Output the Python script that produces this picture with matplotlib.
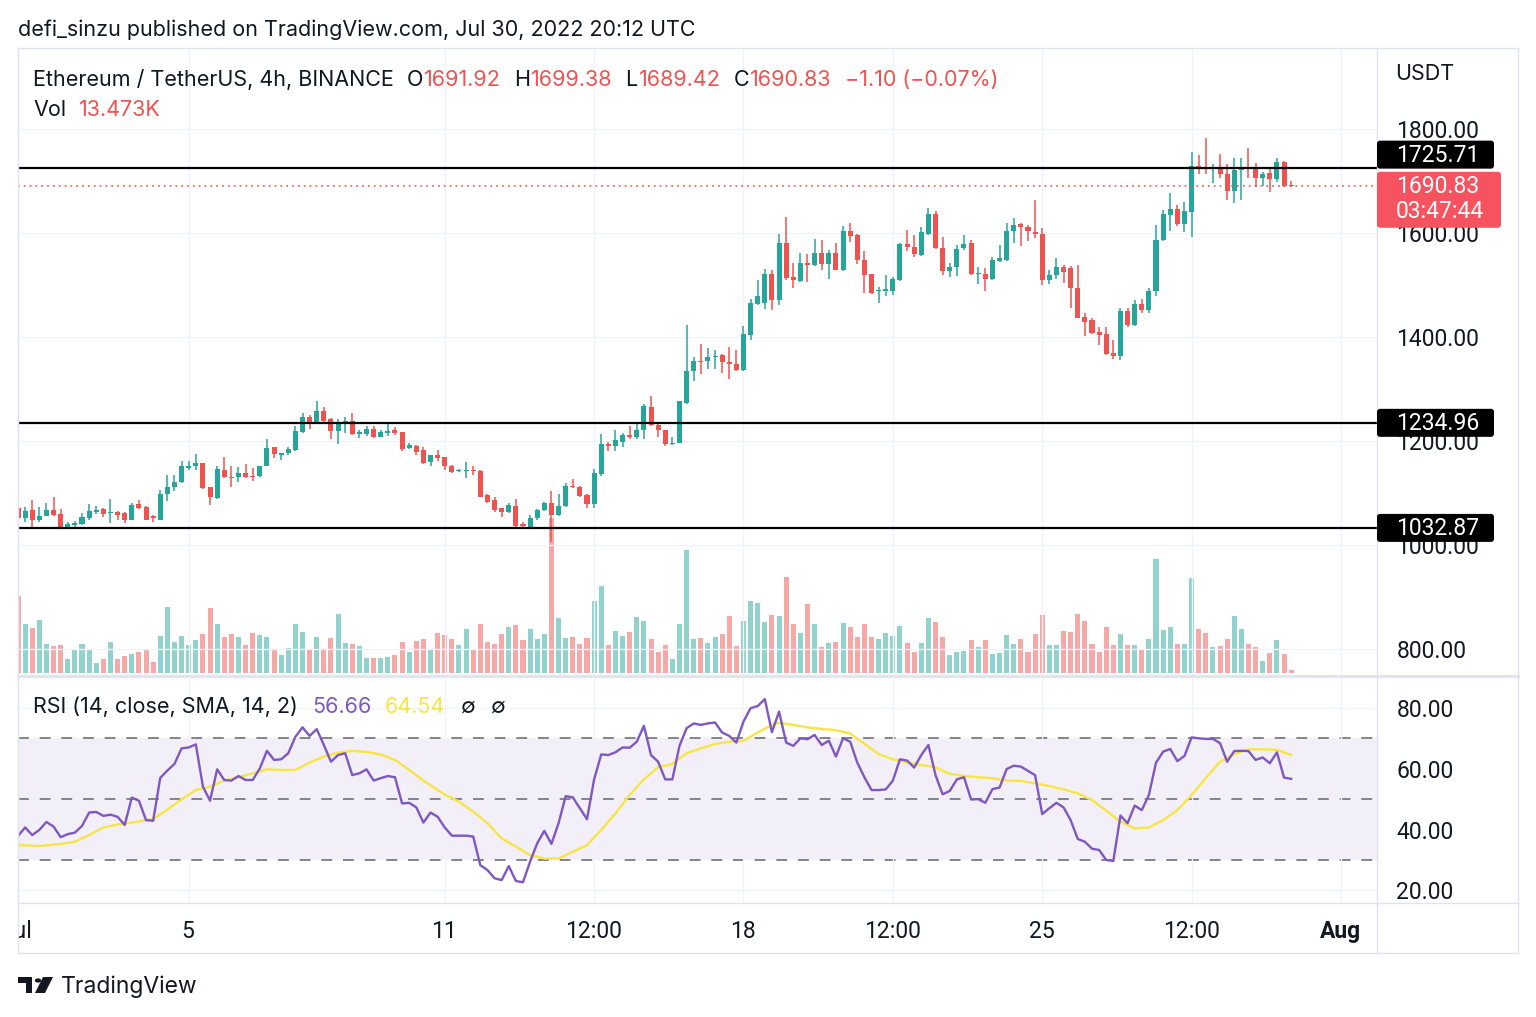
import numpy as np
import pandas as pd
import matplotlib
matplotlib.use("Agg")
import matplotlib.pyplot as plt
import matplotlib.dates as mdates
from matplotlib.patches import FancyBboxPatch, Circle, Polygon
from matplotlib.lines import Line2D

plt.rcParams['font.family'] = ['Inter', 'DejaVu Sans']

#===========================================================
# --- Donnees (ETH/USDT 4h) -------------------------------
#===========================================================

start = '2022-07-01 00:00'

opens = [1071, 1051, 1067, 1049, 1056, 1067, 1060, 1035, 1039, 1040,
         1051, 1064, 1069, 1061, 1063, 1061, 1048, 1078, 1074, 1055,
         1049, 1099, 1111, 1122, 1148, 1151, 1157, 1111, 1090, 1144,
         1131, 1130, 1138, 1131, 1133, 1152, 1188, 1173, 1176, 1183,
         1218, 1247, 1234, 1258, 1242, 1220, 1235, 1239, 1213, 1214,
         1224, 1208, 1215, 1221, 1218, 1186, 1190, 1183, 1160, 1174,
         1169, 1152, 1142, 1143, 1144, 1142, 1096, 1087, 1071, 1064,
         1075, 1040, 1035, 1051, 1067, 1080, 1058, 1075, 1113, 1112,
         1097, 1079, 1137, 1194, 1190, 1199, 1212, 1208, 1221, 1266,
         1231, 1222, 1194, 1197, 1274, 1335, 1354, 1353, 1362, 1365,
         1351, 1348, 1337, 1404, 1463, 1465, 1521, 1471, 1580, 1515,
         1508, 1542, 1538, 1561, 1540, 1561, 1528, 1603, 1596, 1549,
         1521, 1488, 1489, 1489, 1510, 1579, 1574, 1558, 1599, 1636,
         1572, 1526, 1534, 1571, 1580, 1522, 1522, 1511, 1547, 1549,
         1604, 1617, 1612, 1602, 1599, 1510, 1520, 1535, 1533, 1494,
         1439, 1433, 1409, 1405, 1369, 1364, 1450, 1423, 1463, 1452,
         1488, 1586, 1635, 1647, 1617, 1640, 1729, 1726, 1724, 1726,
         1713, 1681, 1721, 1726, 1723, 1706, 1715, 1704, 1737, 1691.92]

highs = [1074, 1074, 1087, 1074, 1081, 1092, 1069, 1045, 1047, 1062,
         1079, 1075, 1072, 1088, 1066, 1064, 1081, 1087, 1075, 1057,
         1106, 1135, 1135, 1162, 1162, 1175, 1157, 1111, 1151, 1170,
         1152, 1150, 1156, 1149, 1152, 1204, 1189, 1176, 1189, 1229,
         1253, 1250, 1276, 1266, 1244, 1242, 1246, 1253, 1221, 1228,
         1228, 1222, 1235, 1226, 1218, 1196, 1192, 1188, 1174, 1183,
         1169, 1154, 1147, 1160, 1152, 1145, 1098, 1092, 1072, 1081,
         1088, 1045, 1058, 1070, 1083, 1103, 1098, 1119, 1126, 1113,
         1099, 1147, 1213, 1199, 1222, 1216, 1228, 1235, 1271, 1287,
         1234, 1222, 1207, 1276, 1423, 1362, 1387, 1378, 1375, 1367,
         1381, 1375, 1421, 1474, 1510, 1530, 1529, 1599, 1631, 1542,
         1561, 1560, 1588, 1586, 1567, 1580, 1613, 1620, 1598, 1566,
         1521, 1497, 1519, 1515, 1580, 1606, 1596, 1612, 1649, 1643,
         1592, 1543, 1577, 1596, 1587, 1535, 1532, 1554, 1577, 1620,
         1628, 1619, 1615, 1663, 1609, 1529, 1552, 1538, 1537, 1538,
         1447, 1437, 1420, 1420, 1394, 1455, 1455, 1471, 1473, 1495,
         1615, 1644, 1676, 1653, 1660, 1755, 1750, 1783, 1732, 1751,
         1732, 1744, 1744, 1764, 1734, 1718, 1723, 1744, 1738, 1699.38]

lows = [1048, 1045, 1034, 1045, 1055, 1056, 1034, 1034, 1030, 1039,
        1049, 1060, 1053, 1042, 1049, 1042, 1048, 1069, 1048, 1045,
        1049, 1085, 1104, 1120, 1144, 1144, 1107, 1077, 1088, 1128,
        1111, 1122, 1128, 1124, 1131, 1151, 1167, 1164, 1173, 1180,
        1215, 1224, 1233, 1234, 1203, 1194, 1215, 1212, 1205, 1210,
        1205, 1207, 1210, 1212, 1181, 1184, 1173, 1156, 1152, 1162,
        1144, 1138, 1141, 1128, 1135, 1092, 1081, 1064, 1053, 1062,
        1034, 1034, 1034, 1049, 1066, 1006, 1056, 1074, 1109, 1093,
        1072, 1072, 1133, 1181, 1181, 1189, 1203, 1203, 1203, 1228,
        1208, 1190, 1192, 1196, 1272, 1316, 1329, 1338, 1338, 1331,
        1319, 1335, 1335, 1394, 1461, 1453, 1451, 1462, 1510, 1494,
        1506, 1506, 1536, 1529, 1511, 1528, 1526, 1583, 1540, 1484,
        1483, 1465, 1478, 1481, 1508, 1566, 1554, 1556, 1596, 1569,
        1519, 1516, 1517, 1567, 1520, 1502, 1489, 1510, 1545, 1547,
        1581, 1575, 1585, 1590, 1500, 1501, 1512, 1503, 1455, 1437,
        1401, 1405, 1385, 1366, 1358, 1356, 1420, 1422, 1447, 1446,
        1478, 1585, 1604, 1614, 1601, 1593, 1713, 1713, 1697, 1706,
        1663, 1657, 1663, 1705, 1689, 1691, 1679, 1699, 1689, 1689.42]

closes = [1051, 1066, 1048, 1056, 1067, 1058, 1035, 1040, 1043, 1053,
          1065, 1067, 1060, 1062, 1058, 1048, 1077, 1072, 1049, 1051,
          1099, 1112, 1122, 1151, 1152, 1158, 1110, 1092, 1146, 1130,
          1128, 1139, 1131, 1130, 1152, 1186, 1175, 1176, 1185, 1220,
          1247, 1233, 1258, 1239, 1220, 1237, 1239, 1213, 1218, 1224,
          1208, 1218, 1220, 1215, 1184, 1192, 1178, 1158, 1174, 1167,
          1152, 1141, 1144, 1144, 1142, 1093, 1083, 1067, 1064, 1077,
          1037, 1037, 1051, 1068, 1081, 1058, 1075, 1113, 1111, 1094,
          1079, 1139, 1194, 1190, 1201, 1212, 1207, 1222, 1267, 1231,
          1221, 1194, 1196, 1276, 1335, 1354, 1351, 1362, 1363, 1351,
          1348, 1337, 1406, 1466, 1479, 1521, 1471, 1580, 1513, 1510,
          1542, 1539, 1561, 1540, 1561, 1529, 1603, 1595, 1549, 1519,
          1485, 1490, 1492, 1511, 1579, 1574, 1560, 1601, 1636, 1572,
          1526, 1534, 1569, 1579, 1522, 1524, 1511, 1548, 1551, 1604,
          1615, 1612, 1603, 1598, 1510, 1520, 1535, 1525, 1494, 1437,
          1429, 1407, 1404, 1367, 1364, 1450, 1423, 1463, 1452, 1488,
          1586, 1636, 1647, 1617, 1642, 1729, 1723, 1723, 1727, 1713,
          1681, 1721, 1726, 1723, 1705, 1713, 1704, 1736, 1691, 1690.83]

# volume en milliers (K)
volumes = [313, 201, 184, 216, 117, 109, 113, 57, 98, 117,
           99, 42, 57, 128, 57, 68, 76, 87, 98, 46,
           151, 268, 128, 151, 113, 135, 160, 265, 201, 147,
           158, 147, 113, 164, 154, 147, 95, 72, 102, 199,
           169, 95, 147, 99, 143, 239, 124, 120, 109, 61,
           61, 61, 65, 73, 128, 84, 132, 139, 99, 164,
           155, 139, 114, 180, 99, 199, 128, 120, 158, 188,
           195, 136, 180, 139, 160, 632, 224, 143, 147, 117,
           143, 294, 356, 113, 171, 150, 169, 227, 212, 139,
           84, 113, 57, 199, 502, 139, 143, 121, 147, 160,
           234, 110, 212, 294, 287, 209, 238, 234, 390, 201,
           164, 280, 199, 106, 121, 128, 205, 188, 147, 199,
           147, 139, 164, 151, 192, 124, 84, 124, 224, 209,
           147, 72, 84, 91, 135, 106, 135, 76, 80, 154,
           120, 139, 87, 160, 235, 113, 113, 173, 169, 239,
           212, 120, 87, 188, 113, 158, 113, 113, 99, 139,
           465, 175, 188, 117, 117, 388, 180, 164, 106, 110,
           139, 233, 180, 120, 106, 50, 80, 135, 76, 13.473]

rsi = [37.9, 40.7, 38.2, 39.9, 42.5, 41.0, 37.5, 38.5, 39.0, 41.2,
       45.6, 45.8, 44.5, 44.9, 44.2, 41.5, 50.5, 49.5, 43.1, 42.9,
       57.0, 59.4, 61.6, 66.7, 67.0, 68.0, 54.1, 49.5, 59.8, 56.3,
       56.1, 57.6, 56.3, 56.3, 60.1, 65.9, 62.9, 63.1, 65.1, 70.5,
       73.6, 70.8, 73.0, 67.8, 62.3, 64.5, 65.1, 57.9, 58.5, 59.8,
       56.1, 56.9, 57.6, 57.2, 48.6, 48.8, 47.3, 42.3, 45.6, 44.2,
       40.7, 38.0, 38.0, 38.0, 37.7, 28.3, 26.7, 24.0, 23.4, 28.0,
       23.1, 22.7, 29.5, 35.5, 39.6, 35.3, 42.1, 51.0, 50.6, 47.0,
       43.4, 56.5, 64.7, 64.5, 65.4, 67.0, 66.9, 68.9, 74.1, 64.5,
       62.3, 56.5, 56.5, 67.5, 73.3, 74.9, 74.4, 74.9, 75.2, 71.9,
       70.8, 68.6, 75.5, 79.9, 80.6, 82.9, 72.0, 78.8, 68.6, 67.5,
       70.0, 69.7, 71.1, 67.8, 69.2, 64.0, 70.0, 68.9, 62.0, 57.2,
       53.0, 53.0, 53.2, 56.1, 63.1, 62.7, 60.4, 64.5, 67.8, 57.9,
       51.6, 52.7, 56.5, 57.2, 49.9, 50.0, 48.8, 53.3, 53.8, 59.9,
       61.0, 60.7, 59.3, 57.9, 45.1, 47.0, 48.8, 47.3, 43.1, 36.9,
       36.0, 33.7, 33.3, 30.0, 29.7, 44.6, 42.1, 47.9, 46.4, 51.4,
       62.0, 65.6, 66.5, 62.5, 64.2, 70.3, 70.0, 69.8, 69.8, 68.4,
       62.3, 65.8, 65.9, 65.8, 62.9, 63.7, 61.8, 65.4, 57.1, 56.66]

# moyenne mobile du RSI, lue une bougie sur deux
sma_bar = [0, 3, 6, 8, 10, 12, 14, 16, 18, 19, 21, 23, 25, 27, 29, 31, 33, 35, 37, 39,
           41, 43, 45, 47, 49, 51, 53, 55, 57, 59, 60, 62, 64, 66, 68, 70, 72, 74, 76, 78,
           80, 82, 84, 86, 88, 90, 92, 94, 96, 98, 100, 102, 104, 106, 107, 109, 111, 113, 115, 117,
           119, 121, 123, 125, 127, 129, 131, 133, 135, 137, 139, 141, 143, 145, 147, 149, 151, 153, 155, 157,
           159, 161, 163, 165, 167, 169, 171, 173, 175, 177, 179]
sma_val = [34.9, 34.6, 35.3, 36.0, 38.2, 40.7, 41.7, 42.3, 43.1, 43.4, 46.6, 49.9, 53.0, 54.1, 56.1, 57.2, 58.5, 59.8, 59.6, 59.6,
           62.0, 64.0, 65.3, 65.9, 65.5, 64.7, 62.9, 59.6, 56.1, 53.0, 51.5, 49.2, 45.9, 42.1, 37.1, 34.4, 31.6, 30.5, 30.5, 32.7,
           34.9, 39.9, 45.3, 51.4, 56.5, 60.5, 61.6, 65.1, 66.7, 68.1, 68.9, 69.2, 71.9, 74.4, 75.1, 74.4, 73.6, 73.1, 72.7, 71.6,
           68.2, 64.8, 63.1, 62.0, 61.2, 60.5, 58.3, 57.6, 57.2, 56.9, 56.1, 56.0, 55.2, 54.3, 53.2, 51.9, 49.7, 46.2, 42.6, 40.4,
           40.7, 43.1, 46.4, 51.4, 56.9, 62.3, 64.8, 66.4, 66.4, 66.2, 64.54]

levels = [1725.71, 1234.96, 1032.87]
level_shift_px = [13, 0, 0]          # decalage des etiquettes (evite le chevauchement)
last_price = 1690.83
countdown = '03:47:44'

price_ticks = [800, 1000, 1200, 1400, 1600, 1800]
rsi_ticks = [20, 40, 60, 80]
time_ticks = ['2022-07-01 00:00', '2022-07-05 00:00', '2022-07-11 00:00', '2022-07-14 12:00',
              '2022-07-18 00:00', '2022-07-21 12:00', '2022-07-25 00:00', '2022-07-28 12:00',
              '2022-08-01 00:00']
time_labels = ['Jul', '5', '11', '12:00', '18', '12:00', '25', '12:00', 'Aug']

#===========================================================
# --- Mise en page ------------------------------------------
#===========================================================

W, H = 1536, 1017
DARK = '#131722'
GREEN = '#26a69a'
RED = '#ef5350'
GRID = '#f0f3fa'
BORDER = '#e0e3eb'
FS = 15.5                      # textes d'en-tete
AXF = ['Roboto', 'DejaVu Sans']  # chiffres des echelles (chiffres tabulaires)
AXS = 16.5

fig = plt.figure(figsize=(W / 100, H / 100), dpi=100)
fig.patch.set_facecolor('white')


def rect(x0, y0, x1, y1):
    return [x0 / W, 1 - y1 / H, (x1 - x0) / W, (y1 - y0) / H]


x = mdates.date2num(pd.date_range(start, periods=len(closes), freq='4h'))
t0 = mdates.date2num(pd.Timestamp(start))
xlim = (t0 + 0.0187, t0 + 31.845)
tick_x = mdates.date2num(pd.to_datetime(time_ticks, format='%Y-%m-%d %H:%M'))

o = np.array(opens); c = np.array(closes)
up = c >= o
col = np.where(up, GREEN, RED)

# --- pane principal : volume (dessous) + bougies
ax = fig.add_axes(rect(18, 48, 1377, 675))
axv = ax.twinx()
ax.set_zorder(axv.get_zorder() + 1)
ax.patch.set_visible(False)

axv.bar(x, volumes, width=0.118, color=col, alpha=0.5, linewidth=0)
axv.set_ylim(-8.2, 2550)
axv.set_yticks([])

ax.vlines(x, lows, highs, colors=col, linewidth=1.1, zorder=3)
body = np.maximum(np.abs(c - o), 2.0)
ax.bar(x, body, bottom=np.minimum(o, c), width=0.118, color=col, linewidth=0, zorder=4)

ax.set_xlim(*xlim)
ax.set_ylim(750.0, 1955.8)
ax.set_yticks(price_ticks)
ax.yaxis.tick_right()
ax.yaxis.set_major_formatter(matplotlib.ticker.FormatStrFormatter('%.2f'))
ax.tick_params(axis='y', length=0, pad=14, labelsize=AXS, labelcolor=DARK, labelfontfamily=AXF)
ax.set_xticks(tick_x)
ax.tick_params(axis='x', length=0, labelbottom=False)
ax.grid(True, color=GRID, linewidth=1, zorder=0)
for a in (ax, axv):
    for s in a.spines.values():
        s.set_visible(False)

for lv in levels:
    ax.axhline(lv, color='black', linewidth=1.6, zorder=5)
ax.axhline(last_price, color=RED, linewidth=1.2, linestyle=(0, (1, 2.5)), zorder=5)

# --- pane RSI
axr = fig.add_axes(rect(18, 677, 1377, 903))
axr.set_xlim(*xlim)
axr.set_ylim(15.87, 90.15)
axr.axhspan(30, 70, color='#7e57c2', alpha=0.09, linewidth=0, zorder=0)
for lv in (70, 50, 30):
    axr.axhline(lv, color='#787b86', linewidth=1.3, linestyle=(0, (6, 6)), zorder=1)
axr.plot(x[np.array(sma_bar)], sma_val, color='#f8e543', linewidth=1.7, zorder=2)
axr.plot(x, rsi, color='#7e57c2', linewidth=1.7, zorder=3)
axr.set_yticks(rsi_ticks)
axr.yaxis.tick_right()
axr.yaxis.set_major_formatter(matplotlib.ticker.FormatStrFormatter('%.2f'))
axr.tick_params(axis='y', length=0, pad=14, labelsize=AXS, labelcolor=DARK, labelfontfamily=AXF)
axr.set_xticks(tick_x)
axr.tick_params(axis='x', length=0, labelbottom=False)
axr.grid(True, color=GRID, linewidth=1, zorder=0)
for s in axr.spines.values():
    s.set_visible(False)

# --- axe du temps
axt = fig.add_axes(rect(18, 903, 1377, 953))
axt.set_xlim(*xlim)
axt.set_ylim(0, 1)
axt.axis('off')
for tx, lab in zip(tick_x, time_labels):
    axt.text(tx, 0.43, lab, ha='center', va='center', fontsize=AXS, color=DARK, family=AXF,
             fontweight='bold' if lab == 'Aug' else 'normal', clip_on=True)

# --- cadres
def fig_line(x0, y0, x1, y1, lw=1.0, color=BORDER):
    fig.add_artist(Line2D([x0 / W, x1 / W], [1 - y0 / H, 1 - y1 / H], color=color,
                          linewidth=lw, transform=fig.transFigure))

fig_line(18, 48, 1518, 48)
fig_line(18, 953, 1518, 953)
fig_line(18, 48, 18, 953)
fig_line(1518, 48, 1518, 953)
fig_line(1377, 48, 1377, 953)
fig_line(18, 676, 1518, 676, lw=2.0)
fig_line(18, 903, 1518, 903)

# --- etiquettes de prix sur l'echelle
fig.canvas.draw()


def label_box(axis, price, text_lines, face, dy_px=0.0, height=28, width=117):
    ypix = axis.transData.transform((0, price))[1] + dy_px
    top = ypix + 14
    bottom = top - height - 25 * (len(text_lines) - 1)
    x0 = 1377
    fig.add_artist(FancyBboxPatch((x0, bottom), width, top - bottom,
                                  boxstyle='round,pad=0,rounding_size=3',
                                  fc=face, ec='none', transform=None, zorder=6))
    for k, s in enumerate(text_lines):
        fig.text(1396 / W, (ypix - 1 - 25 * k) / H, s, color='white', fontsize=AXS, family=AXF,
                 va='center', ha='left', zorder=7)


label_box(ax, last_price, ['%.2f' % last_price, countdown], '#f7525f', dy_px=0, height=31, width=124)
for lv, sh in zip(levels, level_shift_px):
    label_box(ax, lv, ['%.2f' % lv], 'black', dy_px=sh)

fig.text(1395 / W, 1 - 74 / H, 'USDT', fontsize=FS, color=DARK, va='center', ha='left')

# --- textes d'en-tete


def text_row(x_px, y_px, parts, size=FS):
    prev = fig.text(x_px / W, 1 - y_px / H, parts[0][0], color=parts[0][1], fontsize=size,
                    va='center', ha='left')
    for s, color, gap in parts[1:]:
        prev = ax.annotate(s, xy=(1, 0.5), xycoords=prev, xytext=(gap, 0),
                           textcoords='offset pixels', color=color, fontsize=size,
                           va='center', ha='left', annotation_clip=False)
    return prev


fig.text(18 / W, 1 - 30 / H, 'defi_sinzu published on TradingView.com, Jul 30, 2022 20:12 UTC',
         fontsize=FS, color=DARK, va='center', ha='left')

text_row(33, 80, [('Ethereum / TetherUS, 4h, BINANCE', DARK),
                  ('O', DARK, 13), ('1691.92', RED, 1),
                  ('H', DARK, 13), ('1699.38', RED, 1),
                  ('L', DARK, 13), ('1689.42', RED, 1),
                  ('C', DARK, 13), ('1690.83', RED, 1),
                  ('\u22121.10 (\u22120.07%)', RED, 13)])
text_row(33, 110, [('Vol', DARK), ('13.473K', RED, 13)])
text_row(33, 707, [('RSI (14, close, SMA, 14, 2)', DARK),
                   ('56.66', '#7e57c2', 14), ('64.54', '#f8e543', 14),
                   ('\u2205', DARK, 14), ('\u2205', DARK, 16)])

# --- logo TradingView
def P(px, py):
    return (px / W, 1 - py / H)

fig.add_artist(Polygon([P(18, 977), P(32, 977), P(32, 993), P(25.5, 993), P(25.5, 983), P(18, 983)],
                       closed=True, fc=DARK, ec='none', transform=fig.transFigure))
fig.add_artist(Circle(P(38, 980.5), 3.2 / W, fc=DARK, ec='none', transform=fig.transFigure))
fig.add_artist(Polygon([P(43, 977), P(53, 977), P(45, 993), P(35, 993)],
                       closed=True, fc=DARK, ec='none', transform=fig.transFigure))
fig.text(61 / W, 1 - 987 / H, 'TradingView', fontsize=16.5, color=DARK, va='center', ha='left')

fig.savefig('out.png', dpi=100, facecolor='white')
